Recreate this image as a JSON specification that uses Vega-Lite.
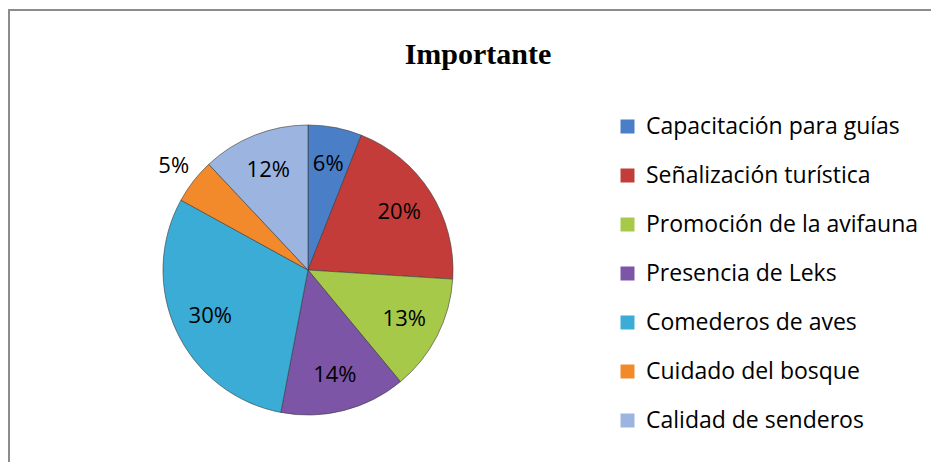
{
  "$schema": "https://vega.github.io/schema/vega-lite/v6.json",
  "autosize": {"type": "none"},
  "padding": {"left": 9, "top": 10, "right": -2, "bottom": -3},
  "width": 924,
  "height": 455,
  "background": "white",
  "view": {"stroke": "#8c8c8c", "strokeWidth": 2},
  "title": {
    "text": "Importante",
    "font": "Liberation Serif",
    "fontSize": 30,
    "fontWeight": "bold",
    "color": "#000000",
    "anchor": "middle",
    "baseline": "alphabetic",
    "dx": 7,
    "offset": -84
  },
  "data": {
    "values": [
      {"categoria": "Capacitación para guías", "pct": 0.06, "orden": 1},
      {"categoria": "Señalización turística", "pct": 0.20, "orden": 2},
      {"categoria": "Promoción de la avifauna", "pct": 0.13, "orden": 3},
      {"categoria": "Presencia de Leks", "pct": 0.14, "orden": 4},
      {"categoria": "Comederos de aves", "pct": 0.30, "orden": 5},
      {"categoria": "Cuidado del bosque", "pct": 0.05, "orden": 6},
      {"categoria": "Calidad de senderos", "pct": 0.12, "orden": 7}
    ]
  },
  "encoding": {
    "theta": {"field": "pct", "type": "quantitative", "stack": true},
    "order": {"field": "orden", "type": "quantitative"},
    "color": {
      "field": "categoria",
      "type": "nominal",
      "sort": null,
      "scale": {
        "domain": ["Capacitación para guías", "Señalización turística", "Promoción de la avifauna", "Presencia de Leks", "Comederos de aves", "Cuidado del bosque", "Calidad de senderos"],
        "range": ["#4a7fc8", "#c43c3a", "#a6c94a", "#7d55a6", "#3aacd6", "#f28a2c", "#9cb4e0"]
      },
      "legend": {
        "title": null,
        "orient": "none",
        "legendX": 607,
        "legendY": 105,
        "symbolType": "square",
        "symbolSize": 196,
        "symbolStrokeWidth": 0,
        "labelFont": "Open Sans",
        "labelFontSize": 23,
        "labelColor": "#000000",
        "labelOffset": 7,
        "labelLimit": 400,
        "rowPadding": 25
      }
    }
  },
  "layer": [
    {
      "mark": {"type": "arc", "x": 299, "y": 260, "outerRadius": 145, "stroke": "#3a3a3a", "strokeWidth": 1, "strokeOpacity": 0.6}
    },
    {
      "mark": {"type": "text", "x": 299, "y": 260, "radius": 108, "font": "Open Sans", "fontSize": 22, "align": "center", "baseline": "middle"},
      "encoding": {
        "text": {"field": "pct", "type": "quantitative", "format": ".0%"},
        "color": {"value": "#000000"},
        "opacity": {"condition": {"test": "datum.pct < 0.06", "value": 0}, "value": 1}
      }
    },
    {
      "mark": {"type": "text", "x": 299, "y": 260, "radius": 170, "font": "Open Sans", "fontSize": 22, "align": "center", "baseline": "middle"},
      "encoding": {
        "text": {"field": "pct", "type": "quantitative", "format": ".0%"},
        "color": {"value": "#000000"},
        "opacity": {"condition": {"test": "datum.pct < 0.06", "value": 1}, "value": 0}
      }
    }
  ]
}
